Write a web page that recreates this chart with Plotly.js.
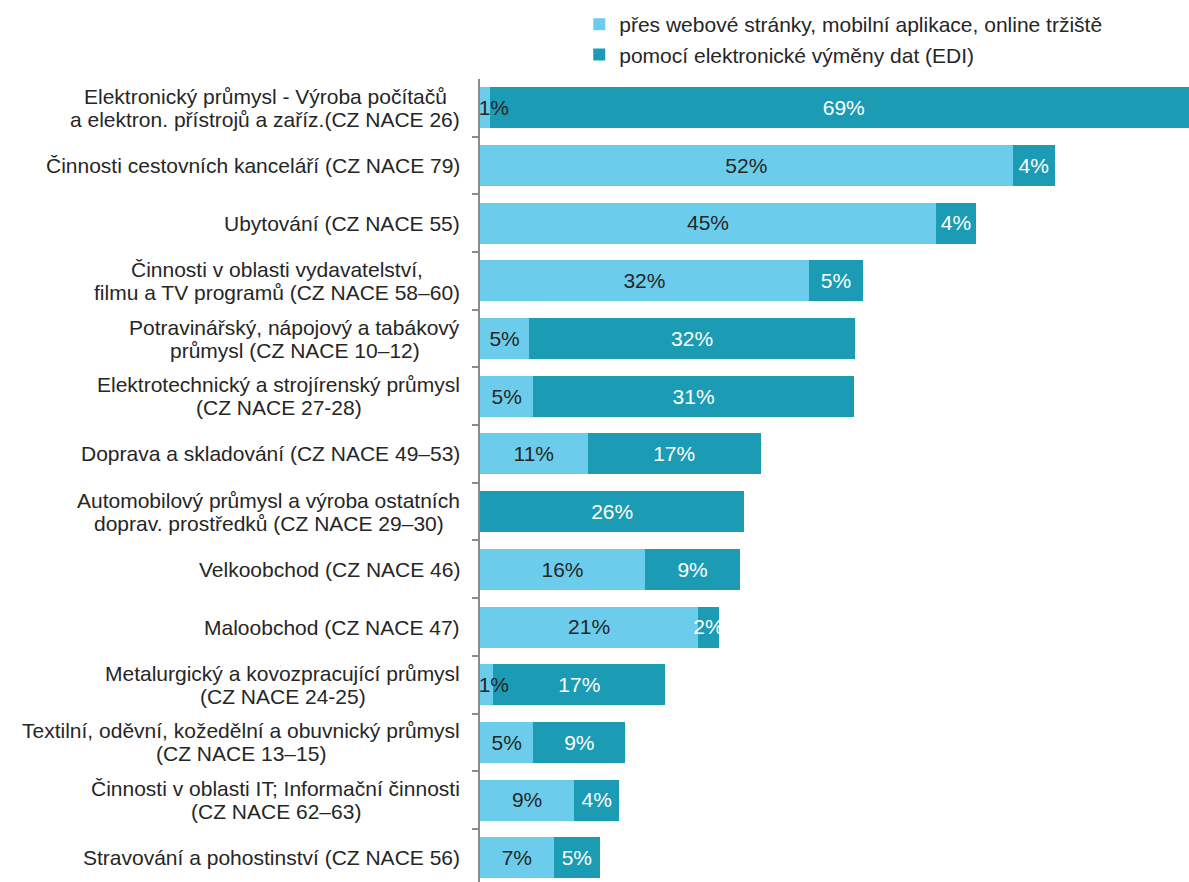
<!DOCTYPE html>
<html>
<head>
<meta charset="utf-8">
<script src="https://cdn.plot.ly/plotly-3.0.1.min.js"></script>
<style>html,body{margin:0;padding:0;background:#fff;}#chart{width:1189px;height:882px;}</style>
</head>
<body>
<div id="chart"></div>
<script>
const categories = [
  "Elektronický průmysl - Výroba počítačů<br>a elektron. přístrojů a zaříz.(CZ NACE 26)",
  "Činnosti cestovních kanceláří (CZ NACE 79)",
  "Ubytování (CZ NACE 55)",
  "Činnosti v oblasti vydavatelství,<br>filmu a TV programů (CZ NACE 58–60)",
  "Potravinářský, nápojový a tabákový<br>průmysl (CZ NACE 10–12)",
  "Elektrotechnický a strojírenský průmysl<br>(CZ NACE 27-28)",
  "Doprava a skladování (CZ NACE 49–53)",
  "Automobilový průmysl a výroba ostatních<br>doprav. prostředků (CZ NACE 29–30)",
  "Velkoobchod (CZ NACE 46)",
  "Maloobchod (CZ NACE 47)",
  "Metalurgický a kovozpracující průmysl<br>(CZ NACE 24-25)",
  "Textilní, oděvní, kožedělní a obuvnický průmysl<br>(CZ NACE 13–15)",
  "Činnosti v oblasti IT; Informační činnosti<br>(CZ NACE 62–63)",
  "Stravování a pohostinství (CZ NACE 56)"
];
const seriesNames = ["přes webové stránky, mobilní aplikace, online tržiště", "pomocí elektronické výměny dat (EDI)"];
const webValues = [1.0, 52.0, 44.5, 32.1, 4.8, 5.2, 10.5, 0.0, 16.1, 21.3, 1.3, 5.2, 9.2, 7.2];
const ediValues = [69.0, 4.1, 3.9, 5.3, 31.8, 31.3, 16.9, 25.8, 9.3, 2.0, 16.8, 9.0, 4.4, 4.5];
const webLabels = ["1%","52%","45%","32%","5%","5%","11%","","16%","21%","1%","5%","9%","7%"];
const ediLabels = ["69%","4%","4%","5%","32%","31%","17%","26%","9%","2%","17%","9%","4%","5%"];

const FONT = "Liberation Sans, Arial, sans-serif";
const FS = 21;
const idx = categories.map((_, i) => i);
const labelY = idx.map(i => i + 0.035); // text baseline tweak so labels sit centred in the bars

const traces = [
  {
    type: "bar", orientation: "h", name: seriesNames[0], legendgroup: "a",
    y: idx, x: webValues, textposition: "none",
    marker: {color: "#6BCDEB"}, hoverinfo: "skip"
  },
  {
    type: "bar", orientation: "h", name: seriesNames[1], legendgroup: "b",
    y: idx, x: ediValues, textposition: "none",
    marker: {color: "#1C9BB4"}, hoverinfo: "skip"
  },
  {
    type: "scatter", mode: "text", showlegend: false, hoverinfo: "skip",
    y: labelY, x: webValues.map(v => Math.max(v / 2, 1.35)), text: webLabels,
    textposition: "middle center", cliponaxis: false,
    textfont: {family: FONT, size: FS, color: "#262626"}
  },
  {
    type: "scatter", mode: "text", showlegend: false, hoverinfo: "skip",
    y: labelY, x: ediValues.map((v, i) => webValues[i] + v / 2), text: ediLabels,
    textposition: "middle center", cliponaxis: false,
    textfont: {family: FONT, size: FS, color: "#ffffff"}
  }
];

const annotations = [];
const measure = document.createElement("canvas").getContext("2d");
measure.font = FS + "px 'Liberation Sans'";
categories.forEach((c, i) => {
  const lines = c.split("<br>");
  const n = lines.length;
  const maxW = Math.max(...lines.map(l => measure.measureText(l).width));
  const centerPx = 460 - maxW / 2;
  lines.forEach((ln, j) => {
    annotations.push({
      xref: "paper", yref: "y", x: 0, y: i, xanchor: "center", yanchor: "middle",
      xshift: centerPx - 480, yshift: ((n - 1) / 2 - j) * 23, text: ln, showarrow: false,
      font: {family: FONT, size: FS, color: "#262626"}
    });
  });
});

const layout = {
  width: 1189, height: 882,
  margin: {l: 480, r: 0, t: 79, b: 0, pad: 0},
  paper_bgcolor: "#ffffff", plot_bgcolor: "#ffffff",
  font: {family: FONT},
  barmode: "stack", bargap: 0.29,
  showlegend: true,
  legend: {
    x: 0.14, xanchor: "left", y: 1 + 75 / 803, yanchor: "top", yref: "paper",
    orientation: "v", traceorder: "normal", tracegroupgap: 1,
    font: {family: FONT, size: FS, color: "#262626"},
    bgcolor: "rgba(0,0,0,0)", borderwidth: 0
  },
  xaxis: {range: [0, 69.2], showgrid: false, zeroline: false, showticklabels: false, ticks: "", showline: false, fixedrange: true},
  yaxis: {
    type: "linear", range: [13.42, -0.5], showgrid: false, zeroline: false,
    showticklabels: false, tickmode: "array", tickvals: idx.slice(1).map(v => v - 0.5),
    ticks: "outside", ticklen: 6, tickwidth: 2, tickcolor: "#8C8C8C",
    showline: true, linecolor: "#8C8C8C", linewidth: 2, fixedrange: true
  },
  annotations: annotations
};

Plotly.newPlot("chart", traces, layout, {displayModeBar: false, staticPlot: true});
</script>
</body>
</html>
